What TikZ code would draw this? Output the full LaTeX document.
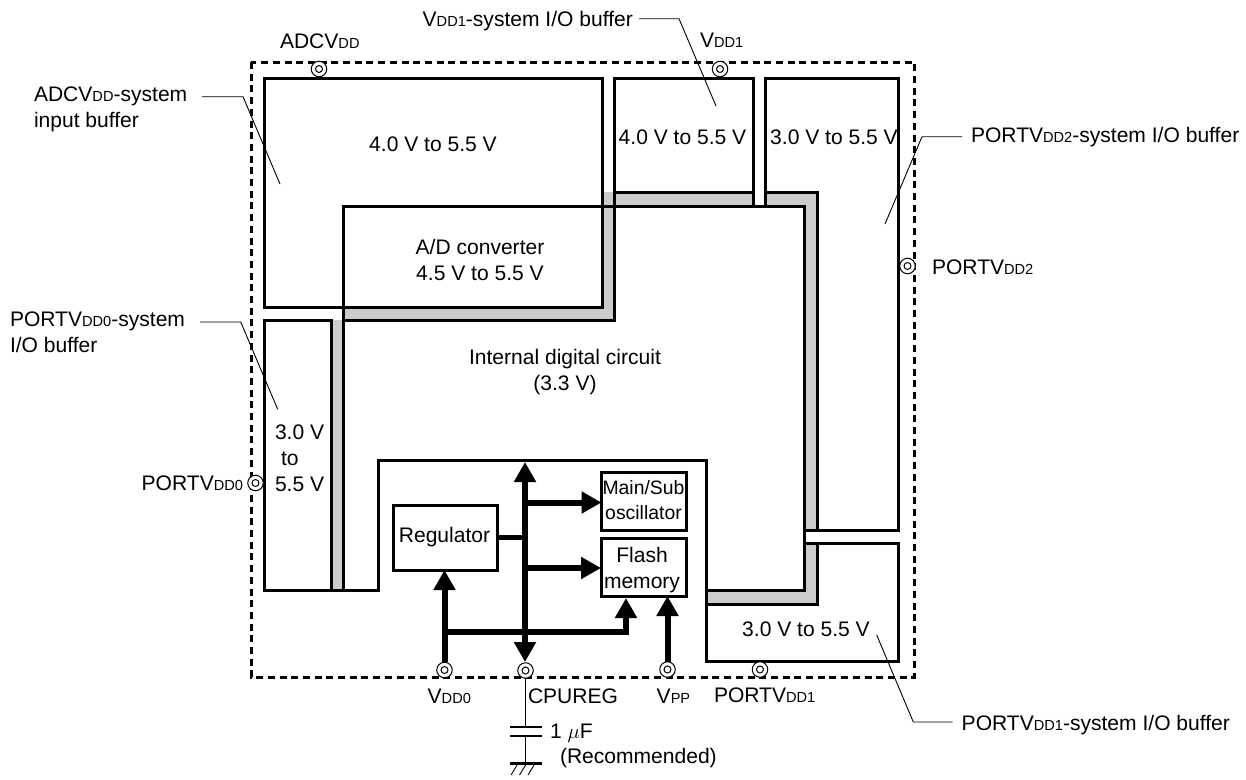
\documentclass[tikz,border=0pt]{standalone}
\usepackage{fontspec}
\setmainfont{Liberation Sans}
\usetikzlibrary{arrows.meta}
\newcommand{\sbs}[1]{{\fontsize{14.6}{14.6}\selectfont #1}}
\tikzset{
  x=1pt,y=-1pt,
  every node/.style={font=\fontsize{21.05}{25.5}\selectfont,inner sep=0pt,outer sep=0pt},
  blk/.style={draw=black,line width=3pt,fill=white},
  strip/.style={fill=black!20,draw=none},
  wall/.style={draw=black,line width=3pt,line cap=rect},
  pin/.style={circle,draw=black,line width=1pt,fill=white,minimum size=15.5pt},
  pindot/.style={circle,draw=black,line width=1pt,minimum size=7pt},
  leader/.style={draw=black,line width=.9pt},
  bus/.style={draw=black,line width=6pt},
  tip/.style={-{Triangle[width=21pt,length=20pt]}},
  tips/.style={{Triangle[width=21pt,length=20pt]}-{Triangle[width=21pt,length=20pt]}},
  lbl/.style={anchor=base west,align=left},
  ctr/.style={anchor=center,align=center}
}
\begin{document}
\begin{tikzpicture}
\useasboundingbox (0,0) rectangle (1246,779);
% gray supply strips
\fill[strip] (331,320) rectangle (343,591);
\fill[strip] (343,307) rectangle (614,320);
\fill[strip] (602,192) rectangle (614,320);
\fill[strip] (614,192) rectangle (753,206);
\fill[strip] (765,192) rectangle (817,206);
\fill[strip] (804,192) rectangle (817,530);
\fill[strip] (804,543) rectangle (817,604);
\fill[strip] (706,590) rectangle (817,604);
% blocks
\coordinate (adcTL) at (264.5,78);
\coordinate (adcBR) at (602,307);
\draw[wall] (adcTL) rectangle (adcBR);
\draw[wall] (343,307) -- (343,206) -- (804,206) -- (804,590) -- (706,590) -- (706,460) -- (378.5,460) -- (378.5,590.5) -- (264.5,590.5) -- (264.5,320) -- (331,320) -- (331,590.5);
\draw[wall] (343,307) -- (343,590.5);
\draw[wall] (343,320) -- (614,320) -- (614,192);
\draw[wall] (614,206) -- (614,78) -- (753,78) -- (753,206);
\draw[wall] (614,192) -- (753,192);
\draw[wall] (765,206) -- (765,78) -- (898.5,78) -- (898.5,530) -- (804,530);
\draw[wall] (765,192) -- (817,192) -- (817,530);
\draw[wall] (804,543) -- (898.5,543) -- (898.5,661) -- (706,661) -- (706,590);
\draw[wall] (817,543) -- (817,604) -- (706,604);
% dashed package outline
\draw[draw=black,line width=3pt,dash pattern=on 7pt off 4.7pt] (251,62) rectangle (914,677);
% inner blocks
\node[blk,minimum width=104pt,minimum height=65pt,align=center] (reg) at (445.5,537.5) {};
\node[ctr] (regt) at (444.5,537) {Regulator};
\node[blk,minimum width=85pt,minimum height=58pt] (osc) at (644,501) {};
\node[ctr,font=\fontsize{19.4}{25.5}\selectfont] (osct) at (643.5,500) {Main/Sub\\oscillator};
\node[blk,minimum width=85pt,minimum height=58pt] (flash) at (643.5,567) {};
\node[ctr] (flasht) at (642,570) {Flash\\memory};
% pins
\foreach \n/\px/\py in {padc/319/69,pvone/720/69,pvtwo/907.5/266,pvzero/255.5/483,vddz/444.5/670,cpureg/525.5/670.5,vpp/667.5/669.5,pvo/760/669.5}{
  \node[pin] (\n) at (\px,\py) {};
  \node[pindot] at (\px,\py) {};
}
% buses
\coordinate (bustop) at (525,462);
\coordinate (busbot) at (525,662);
\draw[bus,tips] (busbot) -- (bustop);
\draw[bus,tip] (525,502.5) -- (osc.west |- 0,502.5);
\draw[bus,tip] (525,568) -- (flash.west |- 0,568);
\draw[bus,line width=5pt] (reg.east) -- (bustop |- reg.east);
\draw[bus,tip] (vddz.north) -- (vddz.north |- reg.south);
\coordinate (fl) at (626,598);
\draw[bus,tip] (444.5,631.7) -- (626,631.7) -- (fl);
\draw[bus,tip] (vpp.north) -- (vpp.north |- flash.south);
% capacitor
\coordinate (capa) at (525.5,727);
\coordinate (capb) at (525.5,736);
\coordinate (gnd) at (525.5,763.5);
\draw[leader,line width=1pt] (cpureg.south) -- (capa);
\draw[leader,line width=1pt] (capb) -- (gnd);
\draw[draw=black,line width=2.6pt] (510,727) -- (541.5,727) (510,736) -- (541.5,736) (510,763.5) -- (541.5,763.5);
\draw[leader] (518,763.5) -- (511,775) (526.5,763.5) -- (519.5,775) (535,763.5) -- (528,775);
% leaders
\coordinate (la1) at (202,96.7); \coordinate (la2) at (243,96.7); \coordinate (la3) at (280,184);
\draw[leader] (la1) -- (la2) -- (la3);
\coordinate (lb1) at (200,322); \coordinate (lb2) at (240.7,322); \coordinate (lb3) at (277.7,409.3);
\draw[leader] (lb1) -- (lb2) -- (lb3);
\coordinate (lc1) at (639,18.7); \coordinate (lc2) at (679,18.7); \coordinate (lc3) at (716,106);
\draw[leader] (lc1) -- (lc2) -- (lc3);
\coordinate (ld1) at (962,136.7); \coordinate (ld2) at (922,136.7); \coordinate (ld3) at (885,224);
\draw[leader] (ld1) -- (ld2) -- (ld3);
\coordinate (le1) at (952.7,722); \coordinate (le2) at (913.3,722); \coordinate (le3) at (876.7,635);
\draw[leader] (le1) -- (le2) -- (le3);
% texts
\node[ctr] (t1) at (433,144) {4.0 V to 5.5 V};
\node[ctr] (t2) at (682.5,137.5) {4.0 V to 5.5 V};
\node[ctr] (t3) at (834,137.5) {3.0 V to 5.5 V};
\node[ctr] (t4) at (480,260) {A/D converter\\4.5 V to 5.5 V};
\node[ctr] (t5) at (565,372) {Internal digital circuit\\(3.3 V)};
\node[ctr] (t6) at (806,629.5) {3.0 V to 5.5 V};
\node[lbl] (t7) at (275,439.5) {3.0 V};
\node[lbl] (t8) at (281,465.5) {to};
\node[lbl] (t9) at (275,491.5) {5.5 V};
\node[lbl] (l1) at (280,48.3) {ADCV\sbs{DD}};
\node[lbl] (l2) at (422.7,26.7) {V\sbs{DD1}-system I/O buffer};
\node[lbl] (l3) at (700,47.7) {V\sbs{DD1}};
\node[lbl] (l4) at (34,101) {ADCV\sbs{DD}-system};
\node[lbl] (l5) at (34,127) {input buffer};
\node[lbl] (l6) at (10,326.7) {PORTV\sbs{DD0}-system};
\node[lbl] (l7) at (10,352) {I/O buffer};
\node[lbl] (l8) at (141.7,490) {PORTV\sbs{DD0}};
\node[lbl] (l9) at (932,274) {PORTV\sbs{DD2}};
\node[lbl] (l10) at (971,142.5) {PORTV\sbs{DD2}-system I/O buffer};
\node[lbl] (l11) at (427.7,703) {V\sbs{DD0}};
\node[lbl] (l12) at (528,703) {CPUREG};
\node[lbl] (l13) at (656.7,703) {V\sbs{PP}};
\node[lbl] (l14) at (714,702) {PORTV\sbs{DD1}};
\node[lbl] (l15) at (961.7,730.7) {PORTV\sbs{DD1}-system I/O buffer};
\node[lbl] (l16) at (550,738) {1 $\mu$F};
\node[lbl] (l17) at (560,763.3) {(Recommended)};
\end{tikzpicture}
\end{document}
